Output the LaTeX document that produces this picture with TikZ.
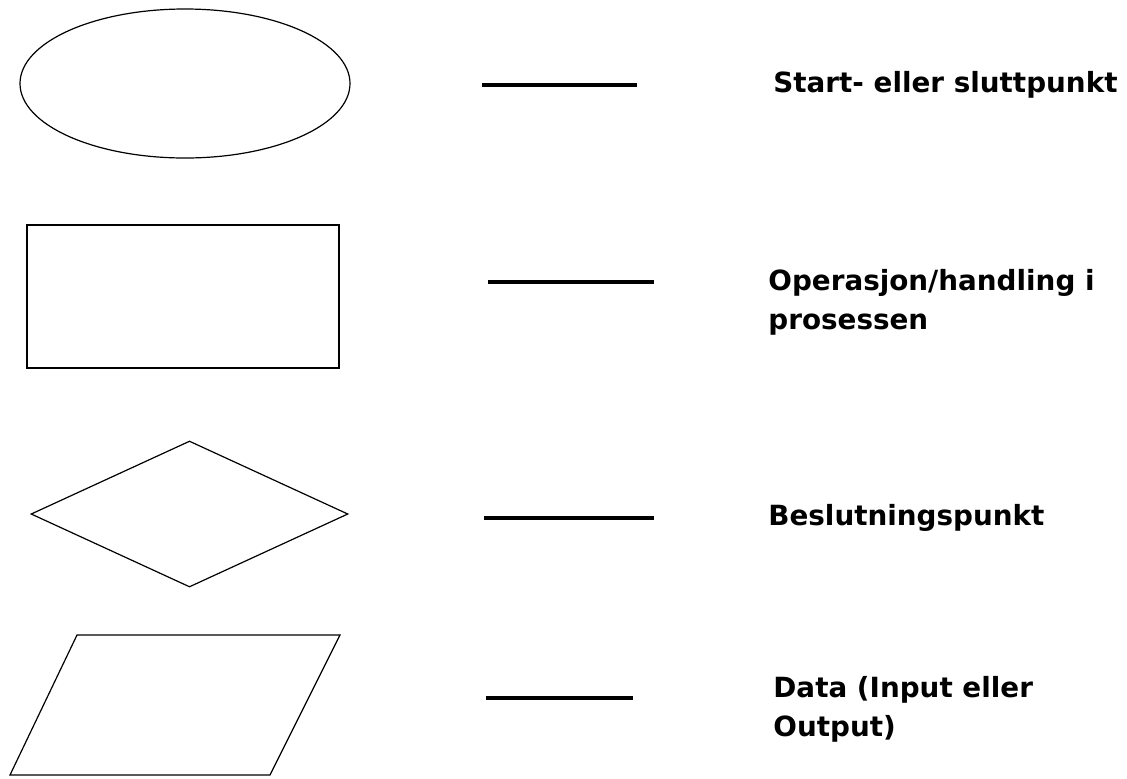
\documentclass[tikz,border=0pt]{standalone}
\usepackage{fontspec}
\setmainfont{DejaVu Sans}
\usepackage{tikz}
\usetikzlibrary{shapes.geometric}

\begin{document}
\begin{tikzpicture}[
    x=0.5pt, y=-0.5pt,
    symbol/.style={draw=black, line width=0.6pt, inner sep=0pt},
    legendbar/.style={line width=2pt},
    legendtext/.style={anchor=base west, inner sep=0pt, align=left, font=\bfseries\fontsize{13.9}{19.5}\selectfont}
]
\useasboundingbox (0,0) rectangle (1127,778);

\node[symbol, ellipse, minimum width=165pt, minimum height=74.5pt] (start) at (185,83.5) {};
\node[symbol, rectangle, minimum width=156pt, minimum height=71.5pt] (operation) at (183,296.5) {};
\node[symbol, diamond, minimum width=158.5pt, minimum height=73pt] (decision) at (189.5,514) {};
\coordinate (data_nw) at (77,635);
\coordinate (data_ne) at (340,635);
\coordinate (data_se) at (270,775);
\coordinate (data_sw) at (10,775);
\draw[symbol] (data_nw) -- (data_ne) -- (data_se) -- (data_sw) -- cycle;

\coordinate (bar1_w) at (482,85);
\coordinate (bar1_e) at (637,85);
\coordinate (bar2_w) at (488,282);
\coordinate (bar2_e) at (654,282);
\coordinate (bar3_w) at (484,518);
\coordinate (bar3_e) at (654,518);
\coordinate (bar4_w) at (486,698);
\coordinate (bar4_e) at (633,698);
\draw[legendbar] (bar1_w) -- (bar1_e);
\draw[legendbar] (bar2_w) -- (bar2_e);
\draw[legendbar] (bar3_w) -- (bar3_e);
\draw[legendbar] (bar4_w) -- (bar4_e);

% two-line texts sit on the baseline of their last line
\node[legendtext] (start_txt) at (773,92) {Start- eller sluttpunkt};
\node[legendtext] (operation_txt) at (768,329) {Operasjon/handling i\\prosessen};
\node[legendtext] (decision_txt) at (768,525) {Beslutningspunkt};
\node[legendtext] (data_txt) at (773,736) {Data (Input eller\\Output)};
\end{tikzpicture}
\end{document}
